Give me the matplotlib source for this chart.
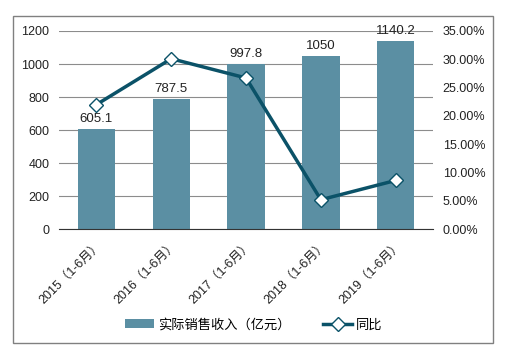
import matplotlib
matplotlib.use('Agg')
import matplotlib.pyplot as plt
from matplotlib.patches import Rectangle
from matplotlib.ticker import PercentFormatter

plt.rcParams['font.family'] = ['Liberation Sans', 'Noto Sans CJK SC', 'DejaVu Sans']

categories = ['2015（1-6月）', '2016（1-6月）', '2017（1-6月）', '2018（1-6月）', '2019（1-6月）']
revenue = [605.1, 787.5, 997.8, 1050, 1140.2]
revenue_labels = ['605.1', '787.5', '997.8', '1050', '1140.2']
growth = [22.0, 30.1, 26.7, 5.2, 8.6]

bar_color = '#5b8fa3'
line_color = '#0b5268'
text_color = '#222222'

fig = plt.figure(figsize=(5.18, 3.52), dpi=100)
ax = fig.add_axes([0.114, 0.349, 0.722, 0.563])
x = list(range(len(categories)))

ax.bar(x, revenue, width=0.5, color=bar_color, zorder=2, label='实际销售收入（亿元）')
for xi, v, lab in zip(x, revenue, revenue_labels):
    ax.text(xi, v + 25, lab, ha='center', va='bottom', fontsize=9.5, color=text_color)

ax.set_ylim(0, 1200)
ax.set_yticks(range(0, 1201, 200))
ax.set_xlim(-0.5, 4.5)
ax.set_xticks(x)
ax.set_xticklabels(categories, rotation=45, ha='right', rotation_mode='anchor', fontsize=9)
ax.grid(axis='y', color='#8c8c8c', linewidth=0.8, zorder=0)
for s in ['top', 'left', 'right']:
    ax.spines[s].set_visible(False)
ax.spines['bottom'].set_color('#333333')
ax.tick_params(axis='both', length=0, labelsize=9, colors=text_color, pad=7)

ax2 = ax.twinx()
ax2.plot(x, growth, color=line_color, linewidth=2.5, marker='D', markersize=7,
         markerfacecolor='white', markeredgecolor=line_color, markeredgewidth=1,
         zorder=3, label='同比')
ax2.set_ylim(0, 35)
ax2.set_yticks(range(0, 36, 5))
ax2.yaxis.set_major_formatter(PercentFormatter(decimals=2))
for s in ax2.spines.values():
    s.set_visible(False)
ax2.tick_params(axis='y', length=0, labelsize=9, colors=text_color, pad=7)

h1, l1 = ax.get_legend_handles_labels()
h2, l2 = ax2.get_legend_handles_labels()
fig.legend(h1 + h2, l1 + l2, loc='center', bbox_to_anchor=(0.49, 0.077), ncol=2,
           frameon=False, fontsize=9.5, handlelength=2.2, handletextpad=0.3,
           columnspacing=2.5)

fig.patches.append(Rectangle((0.025, 0.026), 0.927, 0.929, transform=fig.transFigure,
                             fill=False, edgecolor='#808080', linewidth=1))

fig.savefig('out.png', dpi=100)
